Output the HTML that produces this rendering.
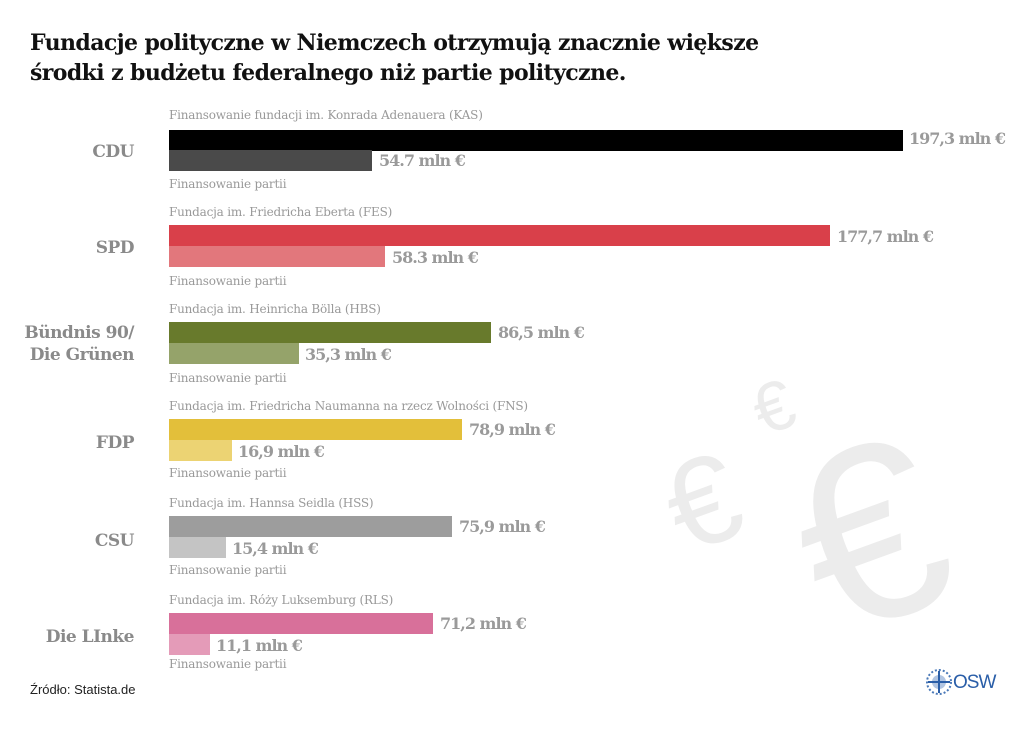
<!DOCTYPE html>
<html><head><meta charset="utf-8"><style>
body{margin:0;width:1024px;height:732px;background:#fff;position:relative;overflow:hidden;font-family:"DejaVu Serif","Liberation Serif",serif;}
.a{position:absolute;white-space:nowrap}
.t{left:30px;font-size:22px;font-weight:bold;color:#111;letter-spacing:-0.6px;font-family:"DejaVu Serif",serif}
.p{right:890px;text-align:right;font-size:17px;font-weight:bold;color:#8a8a8a;line-height:22px;letter-spacing:-0.5px}
.s{left:169px;font-size:12px;color:#999;letter-spacing:-0.2px}
.b{position:absolute;left:169px;height:21px}
.v{font-size:16px;font-weight:bold;color:#9a9a9a;letter-spacing:-1px}
.e{position:absolute;color:#ececec;font-family:"Liberation Sans",sans-serif;font-weight:normal;transform:rotate(-20deg)}
</style></head><body>
<div class="e" style="left:800px;top:410px;font-size:250px;line-height:250px">€</div>
<div class="e" style="left:668px;top:440px;font-size:125px;line-height:125px">€</div>
<div class="e" style="left:754px;top:372px;font-size:70px;line-height:70px">€</div>
<div class="a t" style="top:30px">Fundacje polityczne w Niemczech otrzymują znacznie większe</div>
<div class="a t" style="top:60px">środki z budżetu federalnego niż partie polityczne.</div>

<div class="a s" style="top:108px">Finansowanie fundacji im. Konrada Adenauera (KAS)</div>
<div class="b" style="top:130px;width:734px;background:#000"></div>
<div class="b" style="top:150px;width:203px;background:#4a4a4a"></div>
<div class="a v" style="left:909px;top:129px">197,3 mln €</div>
<div class="a v" style="left:379px;top:151px">54.7 mln €</div>
<div class="a s" style="top:177px">Finansowanie partii</div>
<div class="a p" style="top:141px">CDU</div>

<div class="a s" style="top:205px">Fundacja im. Friedricha Eberta (FES)</div>
<div class="b" style="top:225px;width:661px;background:#d9404a"></div>
<div class="b" style="top:246px;width:216px;background:#e2777c"></div>
<div class="a v" style="left:837px;top:227px">177,7 mln €</div>
<div class="a v" style="left:392px;top:248px">58.3 mln €</div>
<div class="a s" style="top:274px">Finansowanie partii</div>
<div class="a p" style="top:237px">SPD</div>

<div class="a s" style="top:302px">Fundacja im. Heinricha Bölla (HBS)</div>
<div class="b" style="top:322px;width:322px;background:#687a2c"></div>
<div class="b" style="top:343px;width:130px;background:#95a36a"></div>
<div class="a v" style="left:498px;top:323px">86,5 mln €</div>
<div class="a v" style="left:305px;top:345px">35,3 mln €</div>
<div class="a s" style="top:371px">Finansowanie partii</div>
<div class="a p" style="top:322px">Bündnis 90/<br>Die Grünen</div>

<div class="a s" style="top:399px">Fundacja im. Friedricha Naumanna na rzecz Wolności (FNS)</div>
<div class="b" style="top:419px;width:293px;background:#e3bf3a"></div>
<div class="b" style="top:440px;width:63px;background:#ecd373"></div>
<div class="a v" style="left:469px;top:420px">78,9 mln €</div>
<div class="a v" style="left:238px;top:442px">16,9 mln €</div>
<div class="a s" style="top:466px">Finansowanie partii</div>
<div class="a p" style="top:432px">FDP</div>

<div class="a s" style="top:496px">Fundacja im. Hannsa Seidla (HSS)</div>
<div class="b" style="top:516px;width:283px;background:#9d9d9d"></div>
<div class="b" style="top:537px;width:57px;background:#c4c4c4"></div>
<div class="a v" style="left:459px;top:517px">75,9 mln €</div>
<div class="a v" style="left:232px;top:539px">15,4 mln €</div>
<div class="a s" style="top:563px">Finansowanie partii</div>
<div class="a p" style="top:530px">CSU</div>

<div class="a s" style="top:593px">Fundacja im. Róży Luksemburg (RLS)</div>
<div class="b" style="top:613px;width:264px;background:#d8709a"></div>
<div class="b" style="top:634px;width:41px;background:#e49bb8"></div>
<div class="a v" style="left:440px;top:614px">71,2 mln €</div>
<div class="a v" style="left:216px;top:636px">11,1 mln €</div>
<div class="a s" style="top:657px">Finansowanie partii</div>
<div class="a p" style="top:626px">Die LInke</div>

<div class="a" style="left:30px;top:682px;font-size:13px;color:#222;font-family:'Liberation Sans',sans-serif">Źródło: Statista.de</div>
<svg class="a" style="left:925px;top:668px" width="30" height="30"><circle cx="14" cy="14" r="12" fill="none" stroke="#4a79b8" stroke-width="2" stroke-dasharray="2 2"/><circle cx="14" cy="14" r="7" fill="#7d9fcf" opacity=".6"/><path d="M14 3V25M3 14H25" stroke="#2a5ea8" stroke-width="2"/></svg>
<div class="a" style="left:953px;top:672px;font-size:19px;color:#2a5ea8;font-family:'Liberation Sans',sans-serif;letter-spacing:-1px">OSW</div>
</body></html>
